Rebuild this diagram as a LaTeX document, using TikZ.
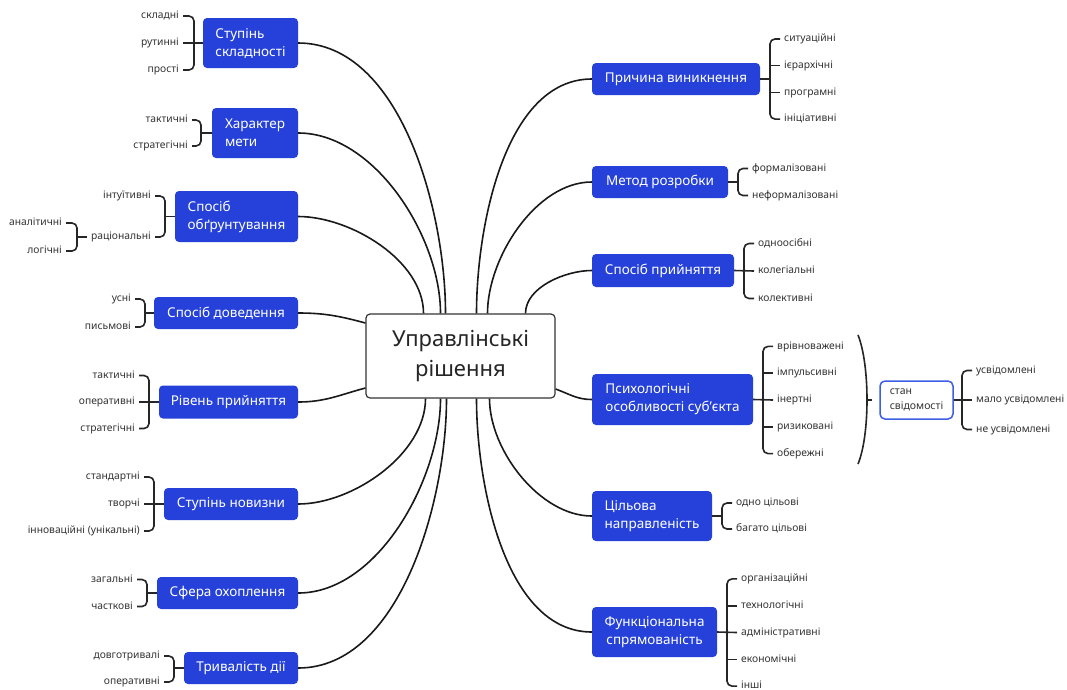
\documentclass[tikz,border=0pt]{standalone}
\usepackage{fontspec}
\setmainfont{Noto Sans}
\usepackage{xcolor}
\usetikzlibrary{positioning,calc}

\definecolor{catblue}{HTML}{2541D9}
\definecolor{leafgray}{HTML}{333333}
\definecolor{stanblue}{HTML}{3D5FE3}

\begin{document}
\begin{tikzpicture}[x=1pt, y=-1pt,
    root/.style={draw=black!80, fill=white, line width=1.2pt, rounded corners=4pt,
        minimum width=189pt, minimum height=84pt, align=center, text=black!85,
        font=\fontsize{22}{30}\selectfont},
    cat/.style={fill=catblue, text=white, rounded corners=4pt, align=left, inner sep=0pt,
        font=\fontsize{13.5}{18}\selectfont},
    leaf/.style={text=leafgray, inner xsep=4pt, inner ysep=2pt, text height=8pt, text depth=2.5pt,
        font=\fontsize{10.3}{13}\selectfont},
    leafl/.style={leaf, anchor=east},
    leafr/.style={leaf, anchor=west},
    link/.style={line width=1.6pt, black!90},
    brace/.style={line width=1.6pt, black!85, rounded corners=5pt}]

\path[use as bounding box, fill=white] (0,0) rectangle (1067,689);

% root
\node[root] (rish) at (460.5,356) {Управлінські\\рішення};

% left side
\node[cat, minimum width=95pt, minimum height=50pt] (skl) at (250.5,43) {Ступінь\\складності};
\foreach \t [count=\i] in {складні,рутинні,прості}
    \node[leafl] (skl\i) at (183,{43+27*(\i-2)}) {\t};
\coordinate (sklb) at (194,43);
\draw[brace] (skl1.east) -| (sklb) |- (skl3.east);
\draw[brace] (skl2.east) -- (skl.west);

\node[cat, minimum width=86pt, minimum height=50pt] (meta) at (255,133) {Характер\\мети};
\foreach \t [count=\i] in {тактичні,стратегічні}
    \node[leafl] (meta\i) at (192,{133+13*(2*\i-3)}) {\t};
\coordinate (metab) at (201,133);
\draw[brace] (meta1.east) -| (metab) |- (meta2.east);
\draw[brace] (metab) -- (meta.west);

\node[cat, minimum width=123pt, minimum height=51pt] (obg) at (236.5,216.5) {Спосіб\\обґрунтування};
\node[leafl] (obg1) at (155,196) {інтуїтивні};
\node[leafl] (obg2) at (155,237) {раціональні};
\coordinate (obgb) at (165,216.5);
\draw[brace] (obg1.east) -| (obgb) |- (obg2.east);
\draw[brace] (obgb) -- (obg.west);
\foreach \t [count=\i] in {аналітичні,логічні}
    \node[leafl] (rac\i) at (66,{237+14*(2*\i-3)}) {\t};
\coordinate (racb) at (77,237);
\draw[brace] (rac1.east) -| (racb) |- (rac2.east);
\draw[brace] (racb) -- (obg2.west);

\node[cat, minimum width=144pt, minimum height=32pt] (dov) at (226,313) {Спосіб доведення};
\foreach \t [count=\i] in {усні,письмові}
    \node[leafl] (dov\i) at (135,{313+14*(2*\i-3)}) {\t};
\coordinate (dovb) at (145,313);
\draw[brace] (dov1.east) -| (dovb) |- (dov2.east);
\draw[brace] (dovb) -- (dov.west);

\node[cat, minimum width=139pt, minimum height=33pt] (riv) at (228.5,402) {Рівень прийняття};
\foreach \t [count=\i] in {тактичні,оперативні,стратегічні}
    \node[leafl] (riv\i) at (139,{402+26.5*(\i-2)}) {\t};
\coordinate (rivb) at (149,402);
\draw[brace] (riv1.east) -| (rivb) |- (riv3.east);
\draw[brace] (riv2.east) -- (riv.west);

\node[cat, minimum width=134pt, minimum height=32pt] (nov) at (231,504) {Ступінь новизни};
\foreach \t [count=\i] in {стандартні,творчі,інноваційні (унікальні)}
    \node[leafl] (nov\i) at (144,{504+27*(\i-2)}) {\t};
\coordinate (novb) at (154,504);
\draw[brace] (nov1.east) -| (novb) |- (nov3.east);
\draw[brace] (nov2.east) -- (nov.west);

\node[cat, minimum width=141pt, minimum height=32pt] (sfera) at (227.5,593) {Сфера охоплення};
\foreach \t [count=\i] in {загальні,часткові}
    \node[leafl] (sfera\i) at (137,{593+13.5*(2*\i-3)}) {\t};
\coordinate (sferab) at (147,593);
\draw[brace] (sfera1.east) -| (sferab) |- (sfera2.east);
\draw[brace] (sferab) -- (sfera.west);

\node[cat, minimum width=114pt, minimum height=32pt] (tryv) at (241,668) {Тривалість дії};
\foreach \t [count=\i] in {довготривалі,оперативні}
    \node[leafl] (tryv\i) at (164,{669+13*(2*\i-3)}) {\t};
\coordinate (tryvb) at (174,668);
\draw[brace] (tryv1.east) -| (tryvb) |- (tryv2.east);
\draw[brace] (tryvb) -- (tryv.west);

% right side
\node[cat, minimum width=168pt, minimum height=32pt] (prych) at (676,79) {Причина виникнення};
\foreach \t [count=\i] in {ситуаційні,ієрархічні,програмні,ініціативні}
    \node[leafr] (prych\i) at (780,{79+26.7*(\i-2.5)}) {\t};
\coordinate (prychb) at (770,79);
\draw[brace] (prych1.west) -| (prychb) |- (prych4.west);
\draw[brace] (prych2.west) -- (prych2.west -| prychb);
\draw[brace] (prych3.west) -- (prych3.west -| prychb);
\draw[brace] (prych.east) -- (prychb);

\node[cat, minimum width=136pt, minimum height=32pt] (metod) at (660,182) {Метод розробки};
\foreach \t [count=\i] in {формалізовані,неформалізовані}
    \node[leafr] (metod\i) at (748,{182+13.5*(2*\i-3)}) {\t};
\coordinate (metodb) at (738,182);
\draw[brace] (metod1.west) -| (metodb) |- (metod2.west);
\draw[brace] (metod.east) -- (metodb);

\node[cat, minimum width=142pt, minimum height=33pt] (pryi) at (663,270.5) {Спосіб прийняття};
\foreach \t [count=\i] in {одноосібні,колегіальні,колективні}
    \node[leafr] (pryi\i) at (754,{271+27.5*(\i-2)}) {\t};
\coordinate (pryib) at (744,271);
\draw[brace] (pryi1.west) -| (pryib) |- (pryi3.west);
\draw[brace] (pryi.east) -- (pryi2.west);

\node[cat, minimum width=161pt, minimum height=51pt] (psych) at (672.5,399.5) {Психологічні\\особливості суб'єкта};
\foreach \t [count=\i] in {врівноважені,імпульсивні,інертні,ризиковані,обережні}
    \node[leafr] (psych\i) at (773,{400+26.8*(\i-3)}) {\t};
\coordinate (psychb) at (763,400);
\draw[brace] (psych1.west) -| (psychb) |- (psych5.west);
\draw[brace] (psych2.west) -- (psych2.west -| psychb);
\draw[brace] (psych4.west) -- (psych4.west -| psychb);
\draw[brace] (psych.east) -- (psych3.west);

% big bracket and state of consciousness
\coordinate (para) at (858,335);
\coordinate (parb) at (858,464);
\coordinate (parm) at (867,400);
\draw[brace] (para) .. controls (870,365) and (870,435) .. (parb);
\draw[brace] (parm) -- ++(5,0);
\node[draw=stanblue, line width=1.5pt, rounded corners=5pt, minimum width=73pt, minimum height=38pt,
    align=left, text=leafgray, font=\fontsize{10.5}{15}\selectfont] (stan) at (916.5,400) {стан\\свідомості};
\foreach \t [count=\i] in {усвідомлені,мало усвідомлені,не усвідомлені}
    \node[leafr] (stan\i) at (972,{400+29.5*(\i-2)}) {\t};
\coordinate (stanb) at (962,400);
\draw[brace] (stan1.west) -| (stanb) |- (stan3.west);
\draw[brace] (stan.east) -- (stan2.west);

\node[cat, minimum width=120pt, minimum height=50pt] (tsil) at (652,516) {Цільова\\направленість};
\foreach \t [count=\i] in {одно цільові,багато цільові}
    \node[leafr] (tsil\i) at (732,{516+13*(2*\i-3)}) {\t};
\coordinate (tsilb) at (722,516);
\draw[brace] (tsil1.west) -| (tsilb) |- (tsil2.west);
\draw[brace] (tsil.east) -- (tsilb);

\node[cat, minimum width=125pt, minimum height=50pt, align=center] (funk) at (654.5,632) {Функціональна\\спрямованість};
\foreach \t [count=\i] in {організаційні,технологічні,адміністративні,економічні,інші}
    \node[leafr] (funk\i) at (737,{632.5+26.8*(\i-3)}) {\t};
\coordinate (funkb) at (727,632.5);
\draw[brace] (funk1.west) -| (funkb) |- (funk5.west);
\draw[brace] (funk2.west) -- (funk2.west -| funkb);
\draw[brace] (funk4.west) -- (funk4.west -| funkb);
\draw[brace] (funk.east) -- (funk3.west);

% links to the root
\draw[link] (skl.east) to[out=0, in=90, looseness=0.85] ($(rish.north)+(-15,0)$);
\draw[link] (meta.east) to[out=0, in=90, looseness=0.85] ($(rish.north)+(-20,0)$);
\draw[link] (obg.east) to[out=0, in=90, looseness=0.85] ($(rish.north)+(-37,0)$);
\draw[link] (dov.east) to[out=0, in=165] ($(rish.west)+(0,-33)$);
\draw[link] (riv.east) to[out=0, in=195] ($(rish.west)+(0,32)$);
\draw[link] (nov.east) to[out=0, in=-90, looseness=0.85] ($(rish.south)+(-35,0)$);
\draw[link] (sfera.east) to[out=0, in=-90, looseness=0.85] ($(rish.south)+(-20,0)$);
\draw[link] (tryv.east) to[out=0, in=-90, looseness=0.85] ($(rish.south)+(-14,0)$);
\draw[link] (prych.west) to[out=180, in=90, looseness=0.85] ($(rish.north)+(16,0)$);
\draw[link] (metod.west) to[out=180, in=90, looseness=0.85] ($(rish.north)+(27,0)$);
\draw[link] (pryi.west) to[out=180, in=90, looseness=0.85] ($(rish.north)+(65,0)$);
\draw[link] (psych.west) to[out=180, in=-20] ($(rish.east)+(0,33)$);
\draw[link] (tsil.west) to[out=180, in=-90, looseness=0.85] ($(rish.south)+(29,0)$);
\draw[link] (funk.west) to[out=180, in=-90, looseness=0.85] ($(rish.south)+(16,0)$);
\end{tikzpicture}
\end{document}
